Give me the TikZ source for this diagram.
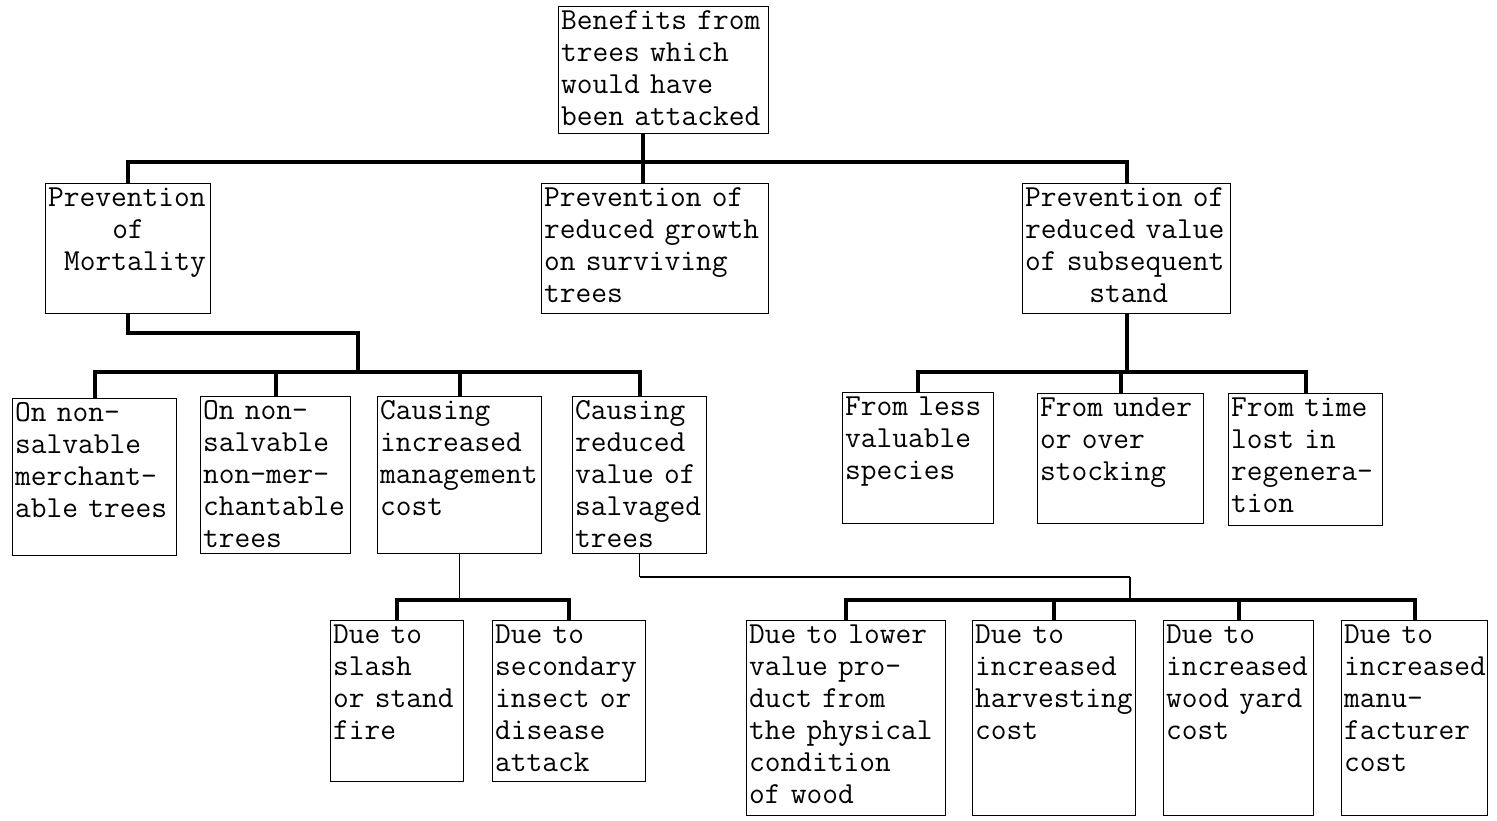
\documentclass[tikz,border=0pt]{standalone}
\usepackage{fontspec}
\tikzset{
  box/.style={draw, line width=0.8pt, anchor=north west, inner xsep=0.05cm, inner ysep=0.05cm,
    text height=0.40cm, align=left, font=\ttfamily\fontsize{17.4pt}{18.3pt}\selectfont},
  conn/.style={line width=2.4pt},
  thinconn/.style={line width=0.8pt}
}
\begin{document}
\begin{tikzpicture}[x=0.02cm, y=-0.02cm]
      \useasboundingbox (0,0) rectangle (1497,821);
      % first two levels
      \node[box, text width=4.10cm, text depth=2.04cm] (root) at (558,6) {Benefits~from\\trees~which\\would~have\\been~attacked};
      \node[box, text width=3.20cm, text depth=2.10cm] (mort) at (45,183) {Prevention\\\hspace*{2.1em}of\\\hspace*{0.52em}Mortality};
      \node[box, text width=4.44cm, text depth=2.10cm] (growth) at (541,183) {Prevention~of\\reduced~growth\\on~surviving\\trees};
      \node[box, text width=4.06cm, text depth=2.10cm] (stand) at (1022,183) {Prevention~of\\reduced~value\\of~subsequent\\\hspace*{2.1em}stand};
      % mortality branch
      \node[box, text width=3.18cm, text depth=2.64cm] (nsm) at (12,398) {On~non-\\salvable\\merchant-\\able~trees};
      \node[box, text width=2.90cm, text depth=2.64cm] (nsn) at (200,396) {On~non-\\salvable\\non-mer-\\chantable\\trees};
      \node[box, text width=3.18cm, text depth=2.64cm] (mgmt) at (377,396) {Causing\\increased\\management\\cost};
      \node[box, text width=2.58cm, text depth=2.64cm] (salv) at (572,396) {Causing\\reduced\\value~of\\salvaged\\trees};
      \node[box, text width=2.56cm, text depth=2.72cm] (slash) at (330,620) {Due~to\\slash\\or~stand\\fire};
      \node[box, text width=2.96cm, text depth=2.72cm] (insect) at (492,620) {Due~to\\secondary\\insect~or\\disease\\attack};
      \node[box, text width=3.88cm, text depth=3.40cm] (lower) at (746,620) {Due~to~lower\\value~pro-\\duct~from\\the~physical\\condition\\of~wood};
      \node[box, text width=3.16cm, text depth=3.40cm] (harv) at (972,620) {Due~to\\increased\\harvesting\\cost};
      \node[box, text width=2.90cm, text depth=3.40cm] (yard) at (1163,620) {Due~to\\increased\\wood~yard\\cost};
      \node[box, text width=2.82cm, text depth=3.40cm] (manu) at (1341,620) {Due~to\\increased\\manu-\\facturer\\cost};
      % subsequent stand branch
      \node[box, text width=2.92cm, text depth=2.12cm] (species) at (842,392) {From~less\\valuable\\species};
      \node[box, text width=3.22cm, text depth=2.10cm] (stocking) at (1037,393) {From~under\\or~over\\stocking};
      \node[box, text width=2.98cm, text depth=2.14cm] (regen) at (1228,393) {From~time\\lost~in\\regenera-\\tion};
      % connectors
      \coordinate (top) at (643,162);
      \coordinate (mbar) at (358,372);
      \coordinate (sbar) at (1135,372);
      \coordinate (cbar) at (460,600);
      \coordinate (dturn) at (1130,577);
      \coordinate (dbar) at (1130,600);
      \draw[conn] (root.south -| top) -- (top);
      \draw[conn] (mort.north) |- (top) -| (stand.north);
      \draw[conn] (top) -- (growth.north -| top);
      \draw[conn] (mort.south) -- ++(0,19) -| (mbar);
      \draw[conn] (nsm.north) |- (mbar) -| (salv.north);
      \draw[conn] (nsn.north) -- (nsn.north |- mbar);
      \draw[conn] (mgmt.north) -- (mgmt.north |- mbar);
      \draw[conn] (stand.south) -- (stand.south |- sbar);
      \draw[conn] (species.north) |- (sbar) -| (regen.north);
      \draw[conn] (stocking.north) -- (stocking.north |- sbar);
      \draw[thinconn] (mgmt.south) -- (mgmt.south |- cbar);
      \draw[conn] (slash.north) |- (cbar) -| (insect.north);
      \draw[thinconn] (salv.south) -- (salv.south |- dturn);
      \draw[line width=1.5pt] (salv.south |- dturn) -- (dturn);
      \draw[thinconn] (dturn) -- (dbar);
      \draw[conn] (lower.north) |- (dbar) -| (manu.north);
      \draw[conn] (harv.north) -- (harv.north |- dbar);
      \draw[conn] (yard.north) -- (yard.north |- dbar);
\end{tikzpicture}
\end{document}
